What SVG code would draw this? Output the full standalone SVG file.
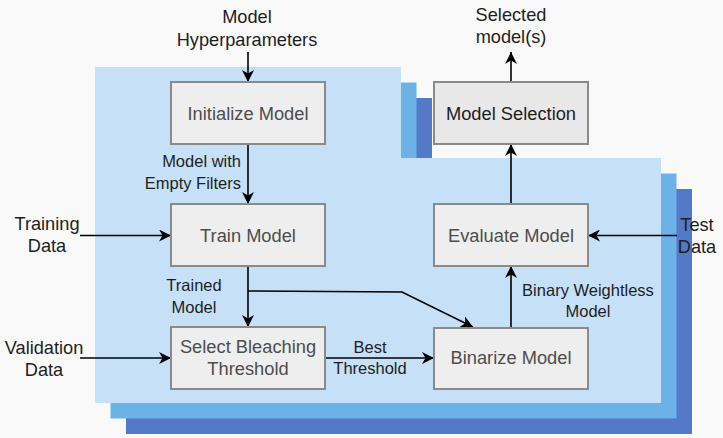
<svg xmlns="http://www.w3.org/2000/svg" width="723" height="438" viewBox="0 0 723 438">
<defs>
<style>
.box{fill:#eeeeee;stroke:#8a8a8a;stroke-width:2}
.bl{font-family:"Liberation Sans",Arial,sans-serif;font-size:18.3px;fill:#4d4d4d;text-anchor:middle}
.el{font-family:"Liberation Sans",Arial,sans-serif;font-size:16.5px;fill:#1e1e1e}
.ol{font-family:"Liberation Sans",Arial,sans-serif;font-size:18.2px;fill:#1e1e1e;text-anchor:middle}
.c{fill:none;stroke:#000;stroke-width:1.6}
</style>
<marker id="ah" viewBox="0 0 12 12" refX="12" refY="6" markerWidth="12" markerHeight="12" markerUnits="userSpaceOnUse" orient="auto">
<path d="M0,0 L12,6 L0,12 L3.5,6 Z" fill="#000"/>
</marker>
<path id="bg" d="M95,67 H401 V158 H661 V403 H95 Z"/>
</defs>
<rect width="723" height="438" fill="#f9f9f9"/>
<g id="background">
<use href="#bg" transform="translate(31,31)" fill="#5479c6"/>
<use href="#bg" transform="translate(15.5,15.5)" fill="#6cb2e7"/>
<use href="#bg" fill="#c6e0f8"/>
</g>
<g id="connectors">
<path class="c" d="M248,52 V82" marker-end="url(#ah)"/>
<path class="c" d="M248,144 V204" marker-end="url(#ah)"/>
<path class="c" d="M80,235.5 H171" marker-end="url(#ah)"/>
<path class="c" d="M248,266 V327" marker-end="url(#ah)"/>
<path class="c" d="M248,291 L402,292 L473,327" marker-end="url(#ah)"/>
<path class="c" d="M80,358 H171" marker-end="url(#ah)"/>
<path class="c" d="M325,358 H434" marker-end="url(#ah)"/>
<path class="c" d="M511,328 V266" marker-end="url(#ah)"/>
<path class="c" d="M677,235.5 H588" marker-end="url(#ah)"/>
<path class="c" d="M511,204 V144" marker-end="url(#ah)"/>
<path class="c" d="M511,82 V52" marker-end="url(#ah)"/>
<text class="el" x="241" y="167" text-anchor="end">Model with</text>
<text class="el" x="241" y="189" text-anchor="end">Empty Filters</text>
<text class="el" x="194" y="291" text-anchor="middle">Trained</text>
<text class="el" x="194" y="313" text-anchor="middle">Model</text>
<text class="el" x="370" y="353" text-anchor="middle">Best</text>
<text class="el" x="370" y="374" text-anchor="middle">Threshold</text>
<text class="el" x="588" y="296" text-anchor="middle">Binary Weightless</text>
<text class="el" x="588" y="317" text-anchor="middle">Model</text>
</g>
<g id="in-hyper"><text class="ol" x="247" y="23">Model</text><text class="ol" x="247" y="46">Hyperparameters</text></g>
<g id="out-selected"><text class="ol" x="511" y="21">Selected</text><text class="ol" x="511" y="43">model(s)</text></g>
<g id="in-training"><text class="ol" x="47" y="230">Training</text><text class="ol" x="47" y="252">Data</text></g>
<g id="in-validation"><text class="ol" x="44" y="354">Validation</text><text class="ol" x="44" y="376">Data</text></g>
<g id="in-test"><text class="ol" x="697" y="231">Test</text><text class="ol" x="697" y="253">Data</text></g>
<g id="initialize"><rect class="box" x="171" y="82" width="154" height="62"/><text class="bl" x="248" y="119.5">Initialize Model</text></g>
<g id="train"><rect class="box" x="171" y="204" width="154" height="62"/><text class="bl" x="248" y="241.5">Train Model</text></g>
<g id="bleach"><rect class="box" x="171" y="327" width="154" height="62"/><text class="bl" x="248" y="353">Select Bleaching</text><text class="bl" x="248" y="375">Threshold</text></g>
<g id="binarize"><rect class="box" x="434" y="328" width="154" height="61"/><text class="bl" x="511" y="364">Binarize Model</text></g>
<g id="evaluate"><rect class="box" x="434" y="204" width="154" height="62"/><text class="bl" x="511" y="241.5">Evaluate Model</text></g>
<g id="selection"><rect class="box" x="434" y="82" width="154" height="62" style="fill:#e8e8e8"/><text class="bl" x="511" y="119.5" style="fill:#1e1e1e">Model Selection</text></g>
</svg>
